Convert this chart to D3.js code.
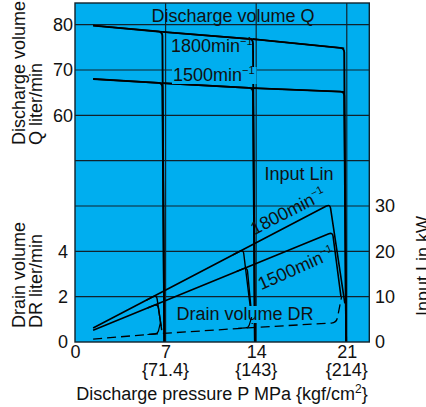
<!DOCTYPE html>
<html>
<head>
<meta charset="utf-8">
<script src="https://cdn.jsdelivr.net/npm/d3@7"></script>
<style>
body{margin:0;background:#fff;}
text{font-family:"Liberation Sans",Arial,Helvetica,sans-serif;fill:#111;font-size:18px;}
</style>
</head>
<body>
<script>
//chart data
var pressureTicks = [0, 7, 14, 21];
var kgfLabels = ["{71.4}", "{143}", "{214}"];
var qTicks = [60, 70, 80];
var drTicks = [0, 2, 4];
var linTicks = [0, 10, 20, 30];
var gridLin = [10, 20, 30, 40, 50, 60, 70];
var cutoffs = [7, 14, 21];

//discharge volume Q (liter/min) against P (MPa)
var q1800 = [[1.4, 79.8], [6.75, 78.4], [13.75, 76.8], [20.8, 74.8]];
var q1500 = [[1.4, 68.0], [6.75, 67.1], [13.75, 66.0], [20.8, 65.2]];
var qDropBottom = [6.9, 13.9, 20.95];

//input Lin (kW)
var lin1800 = [[1.4, 3.1], [19.7, 30.4], [20.85, 8.5]];
var lin1500 = [[1.4, 2.6], [19.9, 24.2], [20.55, 10.0]];
var lin1800Cut = [[[5.5, 9.2], [6.3, 10.4], [6.7, 2.6]], [[12.2, 19.2], [13.0, 20.4], [13.7, 4.0]]];
var lin1500Cut = [[[5.6, 7.5], [6.4, 8.4], [6.65, 3.5]], [[12.5, 15.6], [13.3, 16.5], [13.6, 7.5]]];

//drain volume DR (liter/min)
var drain = [[1.4, 0.13], [6.3, 0.36], [13.3, 0.62], [20.2, 0.85], [20.6, 2.0]];
var drainCut = [[[5.6, 0.33], [6.4, 0.37], [6.6, 0.85]], [[12.6, 0.6], [13.4, 0.63], [13.65, 1.1]]];

(function(){
	var width = 426, height = 407;
	var left = 75, right = 369.3, top = 3, bottom = 342;
	var blue = "#00aeef";

	var svg = d3.select("body").append("svg")
		.attr("width", width)
		.attr("height", height);

	//scales: one grid, three value axes sharing it
	var x = d3.scaleLinear().domain([0, 22.74]).range([left, right]);
	var lin = d3.scaleLinear().domain([0, 30]).range([bottom, 206]);
	var q = d3.scaleLinear().domain([40, 80]).range([lin(30), lin(70)]);
	var dr = d3.scaleLinear().domain([0, 4]).range([bottom, lin(20)]);

	svg.append("defs").append("clipPath").attr("id", "plot")
		.append("rect").attr("x", left).attr("y", top)
		.attr("width", right - left).attr("height", bottom - top);

	svg.append("rect").attr("x", left).attr("y", top)
		.attr("width", right - left).attr("height", bottom - top)
		.attr("fill", blue);

	var plot = svg.append("g").attr("clip-path", "url(#plot)");

	//grid
	plot.selectAll(".hgrid").data(gridLin).enter().append("line")
		.attr("x1", left).attr("x2", right)
		.attr("y1", function(d){ return lin(d); })
		.attr("y2", function(d){ return lin(d); })
		.attr("stroke", "#10222c").attr("stroke-width", 1.2);
	plot.selectAll(".vgrid").data(cutoffs).enter().append("line")
		.attr("y1", top).attr("y2", bottom)
		.attr("x1", function(d){ return x(d); })
		.attr("x2", function(d){ return x(d); })
		.attr("stroke", "#10222c").attr("stroke-width", 1.2);

	//polyline with small rounded corners
	function rounded(pts, r){
		var d = "M" + pts[0][0] + "," + pts[0][1];
		for (var i = 1; i < pts.length - 1; i++){
			var p0 = pts[i-1], p1 = pts[i], p2 = pts[i+1];
			var l1 = Math.hypot(p1[0]-p0[0], p1[1]-p0[1]);
			var l2 = Math.hypot(p2[0]-p1[0], p2[1]-p1[1]);
			var r1 = Math.min(r, l1/2), r2 = Math.min(r, l2/2);
			var a = [p1[0] - (p1[0]-p0[0])/l1*r1, p1[1] - (p1[1]-p0[1])/l1*r1];
			var b = [p1[0] + (p2[0]-p1[0])/l2*r2, p1[1] + (p2[1]-p1[1])/l2*r2];
			d += "L" + a[0] + "," + a[1] + "Q" + p1[0] + "," + p1[1] + " " + b[0] + "," + b[1];
		}
		var e = pts[pts.length-1];
		return d + "L" + e[0] + "," + e[1];
	}
	function toPx(pts, yScale){
		return pts.map(function(p){ return [x(p[0]), yScale(p[1])]; });
	}
	function curve(pts, yScale, w, dash){
		plot.append("path")
			.attr("d", rounded(toPx(pts, yScale), 4))
			.attr("fill", "none")
			.attr("stroke", "#000")
			.attr("stroke-width", w)
			.attr("stroke-dasharray", dash || null)
			.attr("stroke-linejoin", "round");
	}

	//discharge volume lines and their cut-off drops
	[q1800, q1500].forEach(function(line){
		curve(line, q, 1.6);
		cutoffs.forEach(function(c, i){
			curve([line[i], line[i+1], [qDropBottom[i], 10]], q, 1.9);
		});
	});

	//input lines
	curve(lin1800, lin, 1.6);
	curve(lin1500, lin, 1.6);
	lin1800Cut.forEach(function(b){ curve(b, lin, 1.4); });
	lin1500Cut.forEach(function(b){ curve(b, lin, 1.4); });

	//labels with blue backing that hide lines beneath
	function label(txt, cx, y, anchor, backing){
		var t = svg.append("text").attr("x", cx).attr("y", y)
			.attr("text-anchor", anchor);
		t.append("tspan").text(txt);
		if (backing){
			var bb = t.node().getBBox();
			svg.insert("rect", function(){ return t.node(); })
				.attr("x", bb.x - 1).attr("y", bb.y + 2)
				.attr("width", bb.width + 2).attr("height", bb.height - 3)
				.attr("fill", blue);
		}
		return t;
	}
	function minLabel(g, txt){
		g.append("tspan").text(txt + "min");
		g.append("tspan").attr("dy", -7).attr("font-size", 11).text("\u22121");
	}

	var t1 = svg.append("text").attr("x", 171).attr("y", 52);
	minLabel(t1, "1800");
	var t2 = svg.append("text").attr("x", 173).attr("y", 81);
	minLabel(t2, "1500");
	var bb2 = t2.node().getBBox();
	svg.insert("rect", function(){ return t2.node(); })
		.attr("x", bb2.x - 1).attr("y", bb2.y + 3)
		.attr("width", bb2.width + 3).attr("height", bb2.height - 4)
		.attr("fill", blue);

	label("Discharge volume Q", 233, 22, "middle", false);
	label("Input Lin", 299, 180, "middle", false);
	label("Drain volume DR", 245, 320, "middle", true);

	var r1 = svg.append("text")
		.attr("transform", "translate(288,211) rotate(-27)")
		.attr("text-anchor", "middle").attr("dy", "0.35em");
	minLabel(r1, "1800");
	var r2 = svg.append("text")
		.attr("transform", "translate(296,268) rotate(-24)")
		.attr("text-anchor", "middle").attr("dy", "0.35em");
	minLabel(r2, "1500");

	//drain volume, dashed, drawn over the label backing
	var over = svg.append("g").attr("clip-path", "url(#plot)");
	over.append("path")
		.attr("d", rounded(toPx(drain, dr), 5))
		.attr("fill", "none").attr("stroke", "#000")
		.attr("stroke-width", 1.3).attr("stroke-dasharray", "9,5");
	drainCut.forEach(function(b){
		over.append("path")
			.attr("d", rounded(toPx(b, dr), 3))
			.attr("fill", "none").attr("stroke", "#000").attr("stroke-width", 1.2);
	});

	//frame
	svg.append("rect").attr("x", left).attr("y", top)
		.attr("width", right - left).attr("height", bottom - top)
		.attr("fill", "none").attr("stroke", "#10222c").attr("stroke-width", 1.4);

	//axes: labels only
	var ax = svg.append("g").attr("transform", "translate(0,341)")
		.call(d3.axisBottom(x).tickValues(pressureTicks).tickSize(0).tickPadding(4).tickFormat(d3.format("d")));
	ax.select(".domain").remove();

	svg.selectAll(".kgf").data(kgfLabels).enter().append("text")
		.attr("x", function(d, i){ return x(cutoffs[i]); })
		.attr("y", 376)
		.attr("text-anchor", "middle")
		.text(function(d){ return d; });

	var xt = svg.append("text").attr("x", 222).attr("y", 400).attr("text-anchor", "middle");
	xt.append("tspan").text("Discharge pressure P MPa {kgf/cm");
	xt.append("tspan").attr("dy", -7).attr("font-size", 12).text("2");
	xt.append("tspan").attr("dy", 7).text("}");

	var aq = svg.append("g").attr("transform", "translate(73,0)")
		.call(d3.axisLeft(q).tickValues(qTicks).tickSize(0).tickPadding(0).tickFormat(d3.format("d")));
	aq.select(".domain").remove();
	var ad = svg.append("g").attr("transform", "translate(68,0)")
		.call(d3.axisLeft(dr).tickValues(drTicks).tickSize(0).tickPadding(0).tickFormat(d3.format("d")));
	ad.select(".domain").remove();
	var al = svg.append("g").attr("transform", "translate(375,0)")
		.call(d3.axisRight(lin).tickValues(linTicks).tickSize(0).tickPadding(0).tickFormat(d3.format("d")));
	al.select(".domain").remove();
	svg.selectAll(".tick text").attr("font-size", 18).attr("font-family", null).attr("fill", "#111");

	//rotated axis titles
	function vtitle(lines, xs, y0){
		lines.forEach(function(s, i){
			svg.append("text")
				.attr("transform", "translate(" + xs[i] + "," + y0 + ") rotate(-90)")
				.attr("text-anchor", "start")
				.text(s);
		});
	}
	vtitle(["Discharge volume", "Q liter/min"], [25, 42], 145);
	vtitle(["Drain volume", "DR liter/min"], [25, 42], 328);
	vtitle(["Input Lin kW"], [429], 316);
})();
</script>
</body>
</html>
